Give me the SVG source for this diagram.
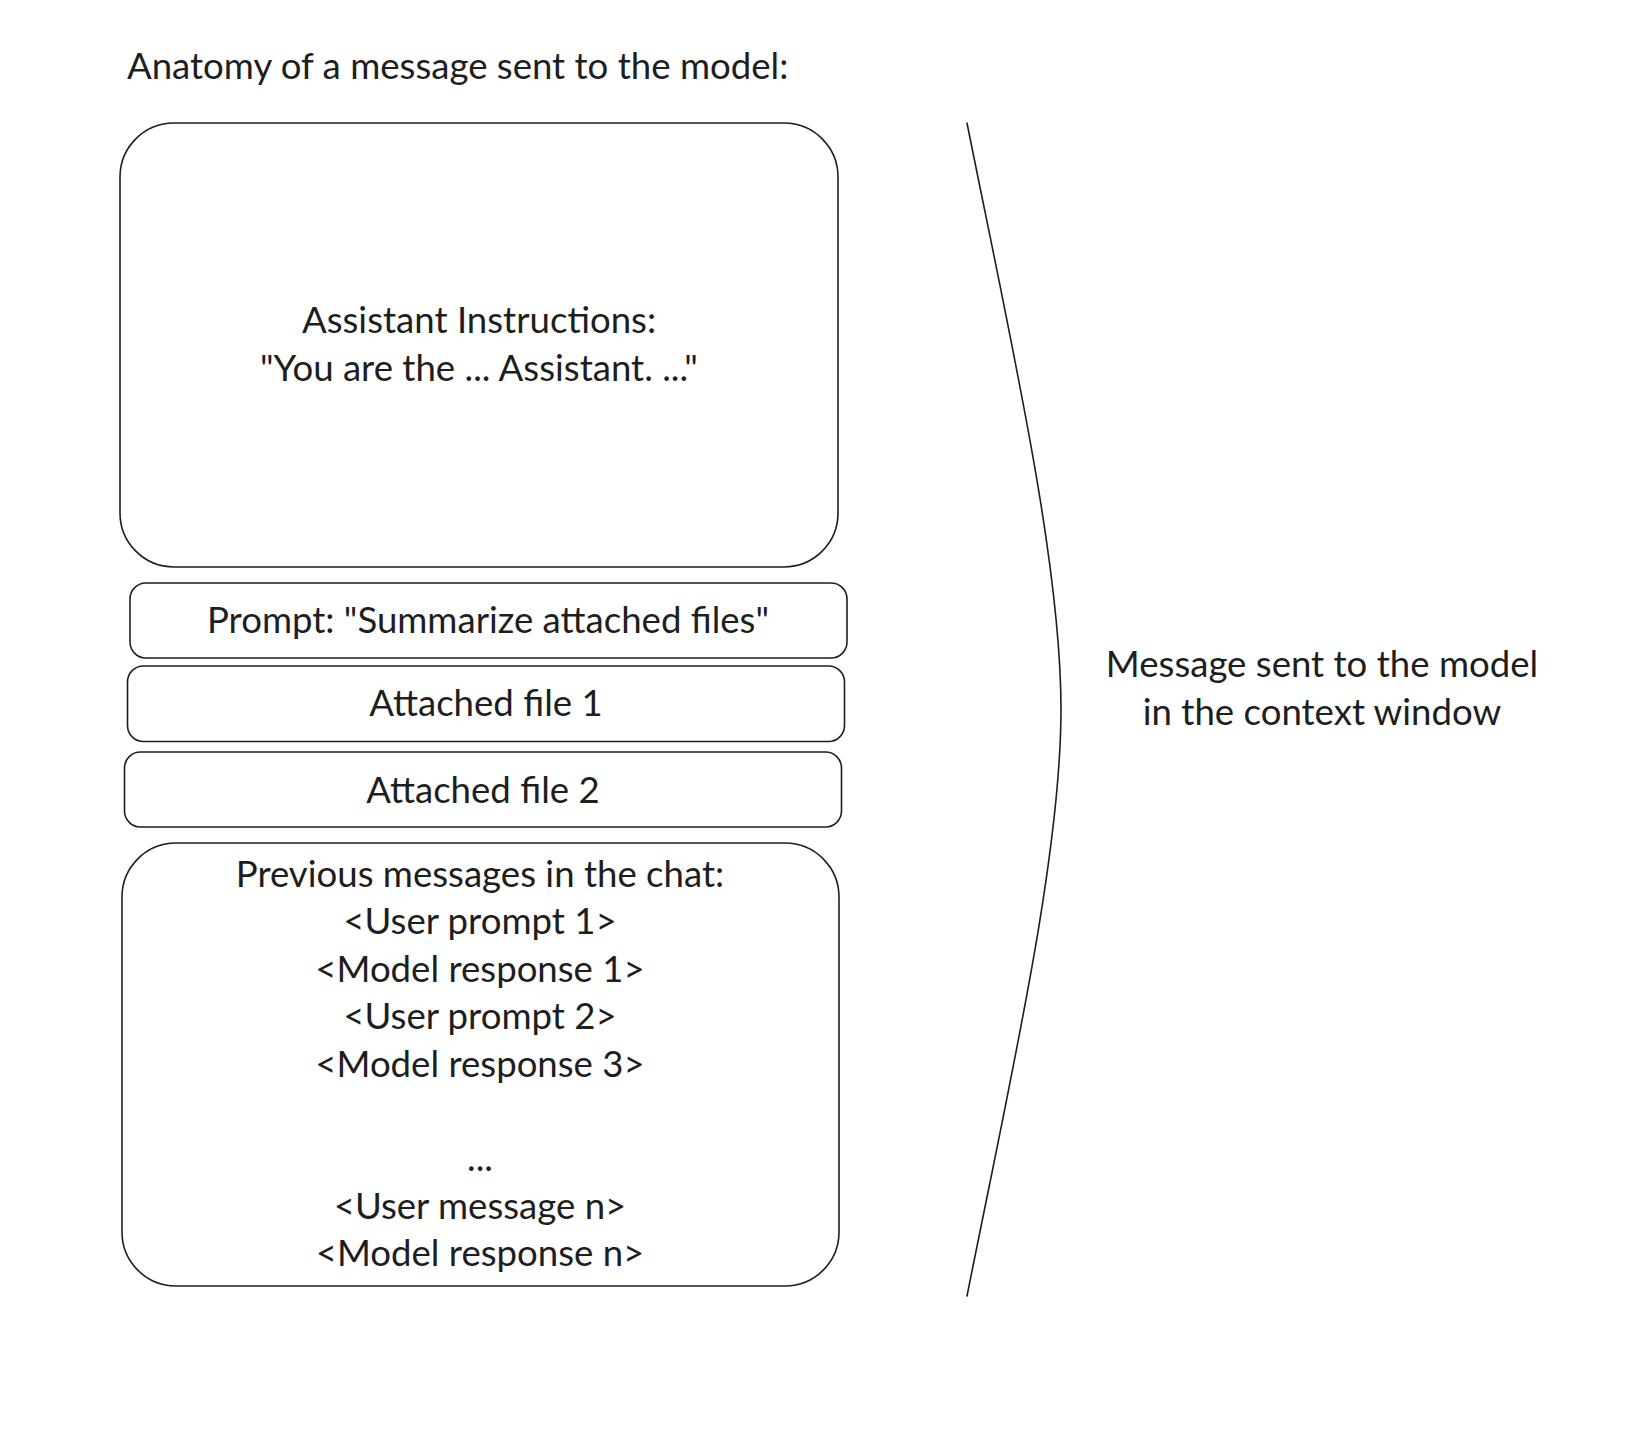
<svg xmlns="http://www.w3.org/2000/svg" width="1652" height="1446" viewBox="0 0 1652 1446">
<style>
.box{fill:none;stroke:#1e1e1e;stroke-width:1.6}
.t{font-family:Lato,"Noto Sans",sans-serif;font-size:36.6px;fill:#1e1e1e;text-anchor:middle}
.conn{fill:none;stroke:#1e1e1e;stroke-width:1.6;stroke-linecap:round}
</style>
<rect width="1652" height="1446" fill="#ffffff"/>
<g id="title"><text class="t" x="127" y="79" style="text-anchor:start">Anatomy of a message sent to the model:</text></g>
<g id="assistant-instructions">
<rect class="box" x="120" y="123" width="718" height="444" rx="54"/>
<text class="t" x="479" y="333">Assistant Instructions:</text>
<text class="t" x="479" y="381">"You are the ... Assistant. ..."</text>
</g>
<g id="prompt">
<rect class="box" x="130" y="583" width="717" height="75" rx="16"/>
<text class="t" x="488" y="633">Prompt: "Summarize attached files"</text>
</g>
<g id="file1">
<rect class="box" x="127.5" y="666" width="717" height="75.5" rx="16"/>
<text class="t" x="486" y="716">Attached file 1</text>
</g>
<g id="file2">
<rect class="box" x="124.5" y="752" width="717" height="75" rx="16"/>
<text class="t" x="483" y="803">Attached file 2</text>
</g>
<g id="previous">
<rect class="box" x="122" y="843" width="717" height="443" rx="54"/>
<text class="t" x="480" y="887">Previous messages in the chat:</text>
<text class="t" x="480" y="934">&lt;User prompt 1&gt;</text>
<text class="t" x="480" y="982">&lt;Model response 1&gt;</text>
<text class="t" x="480" y="1029">&lt;User prompt 2&gt;</text>
<text class="t" x="480" y="1077">&lt;Model response 3&gt;</text>
<text class="t" x="480" y="1171">...</text>
<text class="t" x="480" y="1219">&lt;User message n&gt;</text>
<text class="t" x="480" y="1266">&lt;Model response n&gt;</text>
</g>
<g id="context-label">
<text class="t" x="1322" y="677">Message sent to the model</text>
<text class="t" x="1322" y="725">in the context window</text>
</g>
<g id="connectors">
<path class="conn" d="M967,123 C1010,338 1061,560 1061,709 C1061,858 1010,1080 967,1296"/>
</g>
</svg>
